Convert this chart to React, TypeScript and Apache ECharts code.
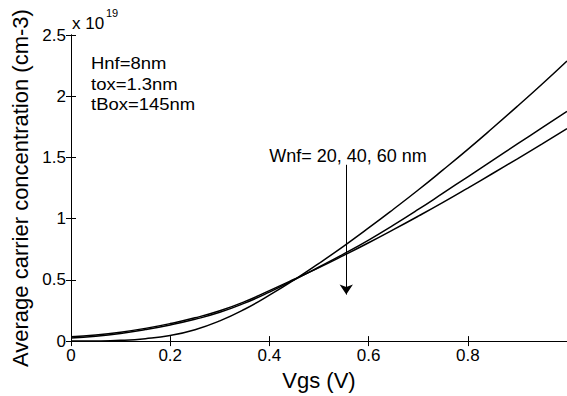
import React, { useEffect, useRef } from "react";
import * as echarts from "echarts";

const vgs = [0, 0.05, 0.1, 0.15, 0.2, 0.25, 0.3, 0.35, 0.4, 0.45, 0.5, 0.55, 0.6, 0.65, 0.7, 0.75, 0.8, 0.85, 0.9, 0.95, 1.0];
const wnf20 = [0, 0.001, 0.006, 0.02, 0.046, 0.093, 0.165, 0.26, 0.375, 0.5, 0.635, 0.776, 0.924, 1.077, 1.234, 1.398, 1.566, 1.74, 1.918, 2.1, 2.288];
const wnf40 = [0.025, 0.04, 0.063, 0.094, 0.132, 0.178, 0.235, 0.31, 0.4, 0.5, 0.605, 0.712, 0.825, 0.947, 1.075, 1.208, 1.342, 1.476, 1.61, 1.743, 1.876];
const wnf60 = [0.035, 0.05, 0.073, 0.104, 0.143, 0.19, 0.248, 0.322, 0.412, 0.505, 0.6, 0.7, 0.803, 0.91, 1.02, 1.133, 1.25, 1.369, 1.489, 1.611, 1.735];

const arrowX = 0.555;
const arrowTop = 1.44;
const arrowTip = 0.38;

const FONT = "Liberation Sans, Arial, Helvetica, sans-serif";

export default function App() {
  const ref = useRef<HTMLDivElement>(null);
  useEffect(() => {
    document.body.style.margin = "0";
    const chart = echarts.init(ref.current!, null, { renderer: "svg" });
    const mk = (ys: number[]) => vgs.map((x, i) => [x, ys[i]]);
    const lineSeries = (name: string, ys: number[], extra: any = {}) => ({
      name,
      type: "line",
      data: mk(ys),
      showSymbol: false,
      smooth: 0.5,
      lineStyle: { color: "#000", width: 1.5 },
      itemStyle: { color: "#000" },
      ...extra,
    });
    const tickStyle = { inside: true, length: 5, lineStyle: { color: "#000", width: 1 } };
    const annot = (text: string, y: number) => ({
      type: "text",
      x: 91,
      y,
      scaleX: 1.12,
      style: { text, fontSize: 16.5, fill: "#000", fontFamily: FONT, textVerticalAlign: "bottom" },
    });
    chart.setOption({
      animation: false,
      textStyle: { fontFamily: FONT },
      grid: { left: 71, right: -2.5, top: 35, bottom: 53 },
      xAxis: [
        {
          type: "value",
          min: 0,
          max: 1,
          interval: 0.2,
          name: "Vgs (V)",
          nameLocation: "middle",
          nameGap: 27,
          nameTextStyle: { fontSize: 22, color: "#000", fontFamily: FONT },
          axisLine: { lineStyle: { color: "#000", width: 1 } },
          axisTick: tickStyle,
          axisLabel: { color: "#000", fontSize: 17, margin: 6, showMaxLabel: false, fontFamily: FONT },
          splitLine: { show: false },
        },
        {
          type: "value",
          position: "top",
          min: 0,
          max: 1,
          interval: 0.2,
          axisLine: { lineStyle: { color: "#000", width: 1 } },
          axisTick: tickStyle,
          axisLabel: { show: false },
          splitLine: { show: false },
        },
      ],
      yAxis: [
        {
          type: "value",
          min: 0,
          max: 2.5,
          interval: 0.5,
          name: "Average carrier concentration (cm-3)",
          nameLocation: "middle",
          nameGap: 35,
          nameTextStyle: { fontSize: 22, color: "#000", fontFamily: FONT },
          axisLine: { lineStyle: { color: "#000", width: 1 } },
          axisTick: tickStyle,
          axisLabel: { color: "#000", fontSize: 17, margin: 5, fontFamily: FONT },
          splitLine: { show: false },
        },
        {
          type: "value",
          position: "right",
          min: 0,
          max: 2.5,
          interval: 0.5,
          axisLine: { lineStyle: { color: "#000", width: 1 } },
          axisTick: tickStyle,
          axisLabel: { show: false },
          splitLine: { show: false },
        },
      ],
      series: [
        lineSeries("Wnf=20nm", wnf20, {
          markLine: {
            silent: true,
            symbol: ["none", "arrow"],
            symbolSize: 10,
            label: { show: false },
            lineStyle: { color: "#000", width: 1, type: "solid" },
            data: [[{ coord: [arrowX, arrowTop] }, { coord: [arrowX, arrowTip] }]],
          },
        }),
        lineSeries("Wnf=40nm", wnf40),
        lineSeries("Wnf=60nm", wnf60),
      ],
      graphic: [
        { type: "text", left: 72, top: 15, style: { text: "x 10", fontSize: 17, fill: "#000", fontFamily: FONT } },
        { type: "text", left: 106, top: 7, style: { text: "19", fontSize: 11, fill: "#000", fontFamily: FONT } },
        annot("Hnf=8nm", 72),
        annot("tox=1.3nm", 92.5),
        annot("tBox=145nm", 113),
        { type: "text", x: 348, y: 156, style: { text: "Wnf= 20, 40, 60 nm", fontSize: 18, fill: "#000", fontFamily: FONT, textAlign: "center", textVerticalAlign: "middle" } },
      ],
    });
    return () => chart.dispose();
  }, []);
  return <div ref={ref} style={{ width: 567, height: 396 }} />;
}
